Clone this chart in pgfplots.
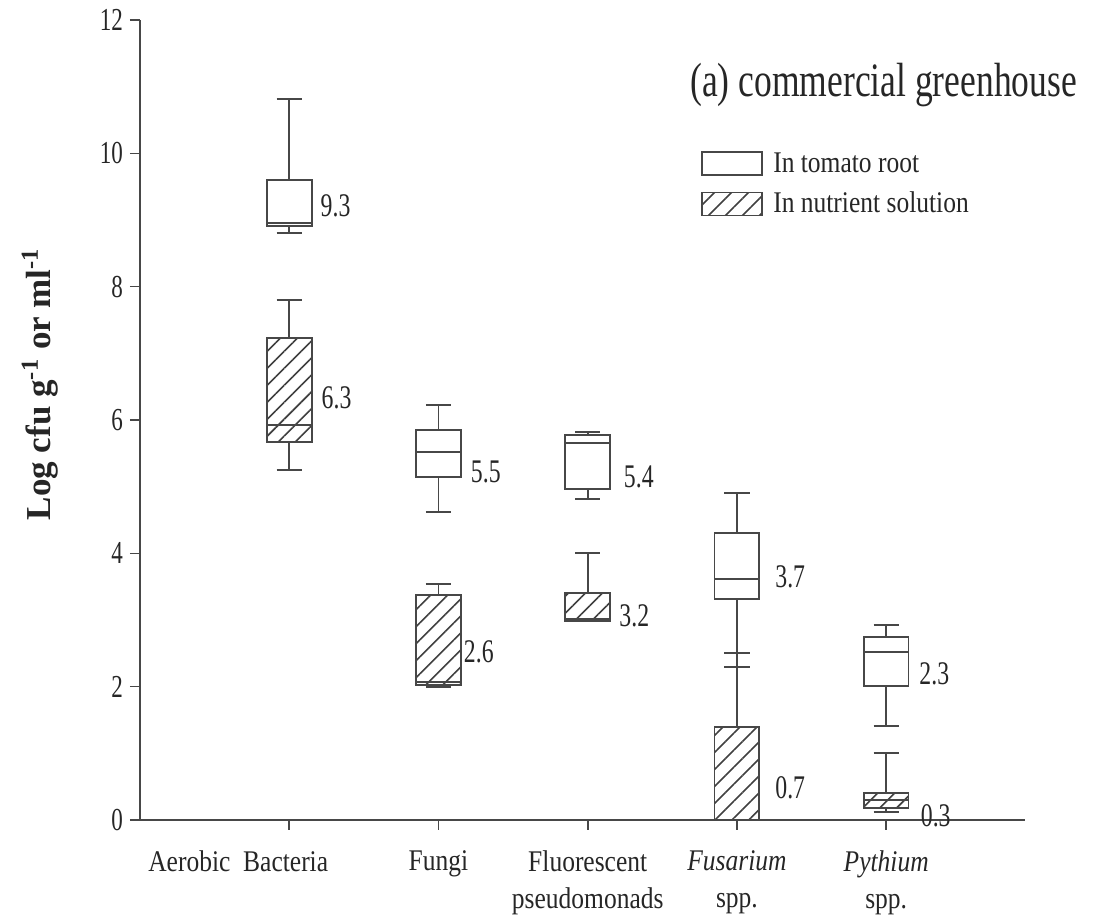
\documentclass[border=0pt]{standalone}
\usepackage{fontspec}
\setmainfont[FakeStretch=0.85]{Liberation Serif}
\newfontfamily\numfont[FakeStretch=0.72]{Liberation Serif}
\newfontfamily\titfont[FakeStretch=0.74]{Liberation Serif}
\newfontfamily\labfont{Liberation Serif}
\usepackage{pgfplots}
\pgfplotsset{compat=1.18}
\usepgfplotslibrary{statistics}
\usetikzlibrary{patterns.meta}

\colorlet{ln}{black!72}
\colorlet{tx}{black!85}
\tikzset{hatch/.style={pattern={Lines[angle=45,distance=6pt,line width=0.8pt]}, pattern color=black!75}}

\begin{document}
\begin{tikzpicture}
\useasboundingbox (-70pt,-52pt) rectangle (477pt,410pt);
\begin{axis}[
  scale only axis, width=442.5pt, height=400pt,
  at={(0,0)}, anchor=south west,
  xmin=0, xmax=5.93, ymin=0, ymax=12,
  axis x line*=bottom, axis y line*=left,
  axis line style={ln, line width=1pt, -},
  xtick={1,2,3,4,5},
  xticklabels={{\makebox[0pt]{\kern-51pt Aerobic\ \ Bacteria}},
               {Fungi},
               {Fluorescent\\pseudomonads},
               {\textit{Fusarium}\\spp.},
               {\textit{Pythium}\\spp.}},
  ytick={0,2,...,12},
  tick align=outside, major tick length=5pt,
  tick style={ln, line width=0.8pt},
  /pgf/number format/assume math mode=true,
  yticklabel style={font=\numfont\fontsize{16}{19}\selectfont, text=tx},
  xticklabel style={font=\fontsize{15}{18.5}\selectfont, align=center, text=tx, yshift=-7pt},
  every axis y label/.style={at={(axis description cs:-0.113,0.545)}, rotate=90, anchor=center,
     font=\labfont\bfseries\fontsize{17.5}{20}\selectfont, text=tx},
  ylabel={Log cfu g\textsuperscript{-1} or ml\textsuperscript{-1}},
  clip=false,
  boxplot/draw direction=y,
  boxplot/box extend=0.3, boxplot/whisker extend=0.17,
  legend image code/.code={\draw[#1] (0pt,-5.75pt) rectangle (30pt,5.75pt);},
  legend style={draw=none, fill=none, at={(axis description cs:0.634,0.84)}, anchor=north west,
     inner sep=0pt, row sep=4.5pt, column sep=3pt, font=\fontsize{15}{18}\selectfont, text=tx,
     cells={anchor=west}},
  legend cell align=left,
]
% root (white)
\addplot[ln, line width=0.9pt, fill=white, forget plot, boxplot prepared={draw position=1,
  lower whisker=8.8, lower quartile=8.91, median=8.95, upper quartile=9.6, upper whisker=10.82}] coordinates {};
\addplot[ln, line width=0.9pt, fill=white, forget plot, boxplot prepared={draw position=2,
  lower whisker=4.62, lower quartile=5.14, median=5.52, upper quartile=5.85, upper whisker=6.22}] coordinates {};
\addplot[ln, line width=0.9pt, fill=white, forget plot, boxplot prepared={draw position=3,
  lower whisker=4.82, lower quartile=4.97, median=5.65, upper quartile=5.77, upper whisker=5.82}] coordinates {};
\addplot[ln, line width=0.9pt, fill=white, forget plot, boxplot prepared={draw position=4,
  lower whisker=2.3, lower quartile=3.31, median=3.61, upper quartile=4.3, upper whisker=4.9}] coordinates {};
\addplot[ln, line width=0.9pt, fill=white, forget plot, boxplot prepared={draw position=5,
  lower whisker=1.41, lower quartile=2.01, median=2.52, upper quartile=2.75, upper whisker=2.92}] coordinates {};
% nutrient solution (hatched)
\addplot[ln, line width=0.9pt, hatch, forget plot, boxplot prepared={draw position=1,
  lower whisker=5.25, lower quartile=5.67, median=5.92, upper quartile=7.23, upper whisker=7.8}] coordinates {};
\addplot[ln, line width=0.9pt, hatch, forget plot, boxplot prepared={draw position=2,
  lower whisker=2.0, lower quartile=2.02, median=2.07, upper quartile=3.37, upper whisker=3.54}] coordinates {};
\addplot[ln, line width=0.9pt, hatch, forget plot, boxplot prepared={draw position=3,
  lower whisker=2.98, lower quartile=2.98, median=3.02, upper quartile=3.41, upper whisker=4.0}] coordinates {};
\addplot[ln, line width=0.9pt, hatch, forget plot, boxplot prepared={draw position=4,
  lower whisker=0, lower quartile=0, median=0, upper quartile=1.39, upper whisker=2.5}] coordinates {};
\addplot[ln, line width=0.9pt, hatch, forget plot, boxplot prepared={draw position=5,
  lower whisker=0.12, lower quartile=0.18, median=0.3, upper quartile=0.41, upper whisker=1.0}] coordinates {};

\addlegendimage{ln, line width=0.9pt, fill=white}
\addlegendentry{In tomato root}
\addlegendimage{ln, line width=0.9pt, hatch}
\addlegendentry{In nutrient solution}

\begin{scope}[every node/.style={anchor=west, inner sep=0pt, text=tx, font=\numfont\fontsize{16.5}{19}\selectfont}]
\node at (axis cs:1.208,9.21) {9.3};
\node at (axis cs:1.215,6.33) {6.3};
\node at (axis cs:2.215,5.22) {5.5};
\node at (axis cs:2.168,2.52) {2.6};
\node at (axis cs:3.24,5.15) {5.4};
\node at (axis cs:3.21,3.06) {3.2};
\node at (axis cs:4.255,3.65) {3.7};
\node at (axis cs:4.255,0.48) {0.7};
\node at (axis cs:5.22,2.19) {2.3};
\node at (axis cs:5.23,0.07) {0.3};
\end{scope}
\node[anchor=west, inner sep=0pt, text=tx, font=\titfont\fontsize{24}{28}\selectfont] at (axis cs:3.685,11.02) {(a) commercial greenhouse};
\end{axis}
\end{tikzpicture}
\end{document}
